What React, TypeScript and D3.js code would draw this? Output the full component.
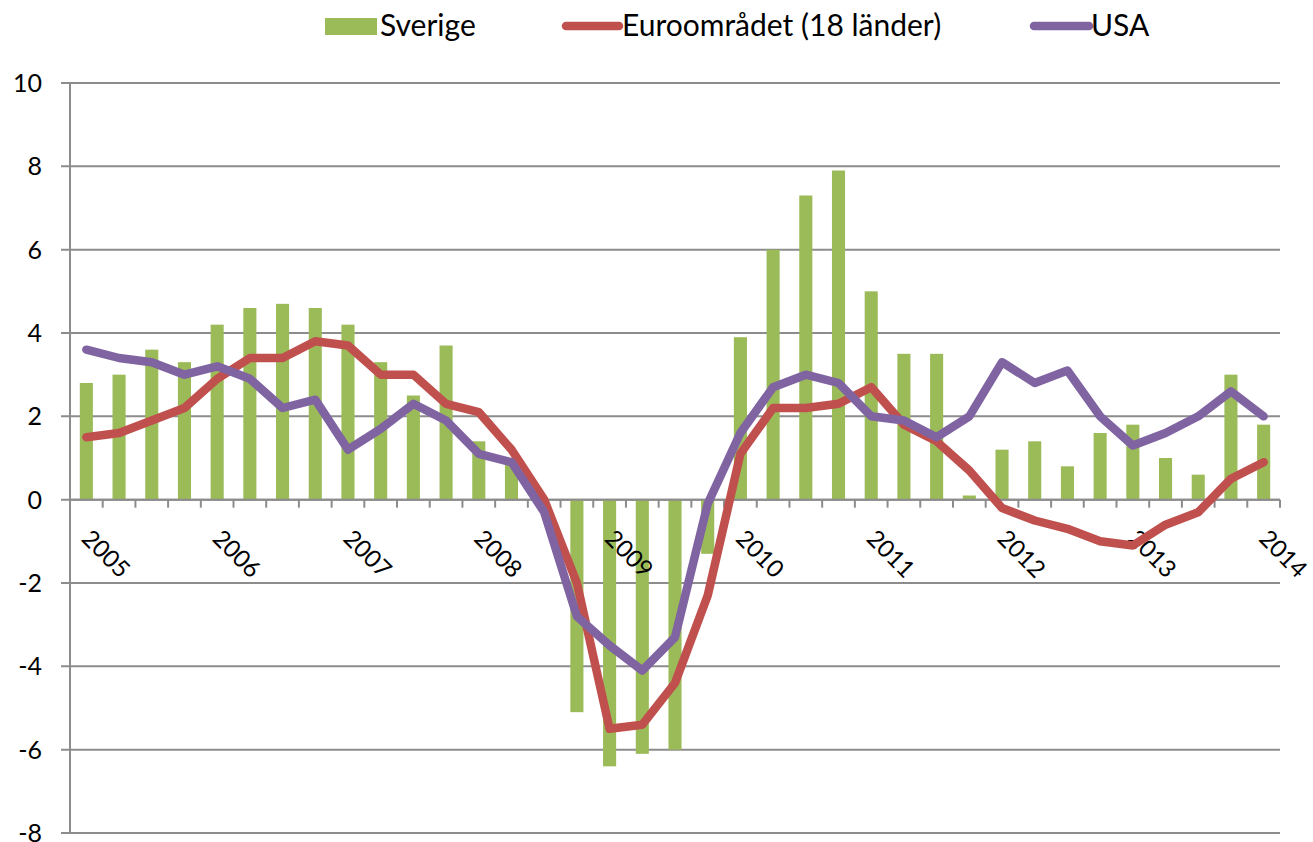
import React, { useEffect, useRef } from "react";
import * as d3 from "d3";

// quarterly data 2005 K1 - 2014 K1, annual change in percent
const quarters = d3.range(2005, 2015).flatMap((y) =>
  y === 2014 ? [`${y}K1`] : [1, 2, 3, 4].map((q) => `${y}K${q}`)
);

const sverige = [
  2.8, 3.0, 3.6, 3.3, 4.2, 4.6, 4.7, 4.6, 4.2, 3.3, 2.5, 3.7, 1.4, 0.9, 0.0, -5.1,
  -6.4, -6.1, -6.0, -1.3, 3.9, 6.0, 7.3, 7.9, 5.0, 3.5, 3.5, 0.1, 1.2, 1.4, 0.8, 1.6,
  1.8, 1.0, 0.6, 3.0, 1.8,
];

const euro = [
  1.5, 1.6, 1.9, 2.2, 2.9, 3.4, 3.4, 3.8, 3.7, 3.0, 3.0, 2.3, 2.1, 1.2, 0.0, -2.0,
  -5.5, -5.4, -4.4, -2.3, 1.1, 2.2, 2.2, 2.3, 2.7, 1.8, 1.4, 0.7, -0.2, -0.5, -0.7, -1.0,
  -1.1, -0.6, -0.3, 0.5, 0.9,
];

const usa = [
  3.6, 3.4, 3.3, 3.0, 3.2, 2.9, 2.2, 2.4, 1.2, 1.7, 2.3, 1.9, 1.1, 0.9, -0.3, -2.8,
  -3.5, -4.1, -3.3, -0.1, 1.6, 2.7, 3.0, 2.8, 2.0, 1.9, 1.5, 2.0, 3.3, 2.8, 3.1, 2.0,
  1.3, 1.6, 2.0, 2.6, 2.0,
];

const yearLabels = ["2005", "2006", "2007", "2008", "2009", "2010", "2011", "2012", "2013", "2014"];
const yTicks = [-8, -6, -4, -2, 0, 2, 4, 6, 8, 10];

const seriesNames = { se: "Sverige", eu: "Euroområdet (18 länder)", us: "USA" };

const GREEN = "#9bbb59";
const RED = "#c0504d";
const PURPLE = "#8064a2";
const GRID = "#8c8c8c";
const FONT = "Lato, 'Open Sans', sans-serif";

const App = () => {
  const svgRef = useRef(null);

  useEffect(() => {
    const width = 1313;
    const height = 842;
    const margin = { top: 83, right: 33, bottom: 8, left: 70 };

    const svg = d3.select(svgRef.current);
    svg.selectAll("*").remove();
    svg.attr("width", width).attr("height", height);

    const x = d3
      .scaleBand()
      .domain(quarters)
      .range([margin.left, width - margin.right])
      .paddingInner(0)
      .paddingOuter(0);
    const bw = x.bandwidth();
    const barW = bw / 2.5;

    const y = d3.scaleLinear().domain([-8, 10]).range([height - margin.bottom - 1, margin.top]);

    // gridlines + y labels
    svg
      .append("g")
      .selectAll("line")
      .data(yTicks)
      .enter()
      .append("line")
      .attr("x1", margin.left - 9)
      .attr("x2", width - margin.right)
      .attr("y1", (d) => y(d))
      .attr("y2", (d) => y(d))
      .attr("stroke", GRID)
      .attr("stroke-width", 2);

    svg
      .append("g")
      .selectAll("text")
      .data(yTicks)
      .enter()
      .append("text")
      .attr("x", 42)
      .attr("y", (d) => y(d))
      .attr("dy", "0.36em")
      .attr("text-anchor", "end")
      .style("font-family", FONT)
      .style("font-size", "25px")
      .style("fill", "#000")
      .text((d) => d);

    // bars
    svg
      .append("g")
      .selectAll("rect")
      .data(sverige)
      .enter()
      .append("rect")
      .attr("x", (d, i) => x(quarters[i]) + (bw - barW) / 2)
      .attr("y", (d) => y(Math.max(0, d)))
      .attr("width", barW)
      .attr("height", (d) => Math.abs(y(d) - y(0)))
      .style("fill", GREEN);

    // axes
    svg
      .append("line")
      .attr("x1", margin.left)
      .attr("x2", margin.left)
      .attr("y1", y(10))
      .attr("y2", y(-8))
      .attr("stroke", GRID)
      .attr("stroke-width", 2);

    svg
      .append("line")
      .attr("x1", margin.left)
      .attr("x2", width - margin.right)
      .attr("y1", y(0))
      .attr("y2", y(0))
      .attr("stroke", GRID)
      .attr("stroke-width", 2);

    svg
      .append("g")
      .selectAll("line")
      .data(quarters)
      .enter()
      .append("line")
      .attr("x1", (d) => x(d) + bw)
      .attr("x2", (d) => x(d) + bw)
      .attr("y1", y(0))
      .attr("y2", y(0) + 8)
      .attr("stroke", GRID)
      .attr("stroke-width", 2);

    // year labels, one per K1
    svg
      .append("g")
      .selectAll("text")
      .data(yearLabels)
      .enter()
      .append("text")
      .attr("transform", (d) => {
        const cx = x(`${d}K1`) + bw / 2 - 6;
        return `translate(${cx}, 540) rotate(45)`;
      })
      .style("font-family", FONT)
      .style("font-size", "24px")
      .style("fill", "#000")
      .text((d) => d);

    // lines
    const line = d3
      .line()
      .x((d, i) => x(quarters[i]) + bw / 2)
      .y((d) => y(d));

    [
      { data: euro, color: RED },
      { data: usa, color: PURPLE },
    ].forEach((s) => {
      svg
        .append("path")
        .datum(s.data)
        .attr("d", line)
        .attr("fill", "none")
        .attr("stroke", s.color)
        .attr("stroke-width", 8.5)
        .attr("stroke-linejoin", "round")
        .attr("stroke-linecap", "round");
    });

    // legend
    const legend = svg.append("g");
    legend.append("rect").attr("x", 325).attr("y", 18).attr("width", 52).attr("height", 17).style("fill", GREEN);
    legend
      .append("text")
      .attr("x", 380)
      .attr("y", 36)
      .style("font-family", FONT)
      .style("font-size", "30px")
      .text(seriesNames.se);

    legend
      .append("line")
      .attr("x1", 566)
      .attr("x2", 619)
      .attr("y1", 26)
      .attr("y2", 26)
      .attr("stroke", RED)
      .attr("stroke-width", 8.5)
      .attr("stroke-linecap", "round");
    legend
      .append("text")
      .attr("x", 622)
      .attr("y", 36)
      .style("font-family", FONT)
      .style("font-size", "30px")
      .text(seriesNames.eu);

    legend
      .append("line")
      .attr("x1", 1034)
      .attr("x2", 1089)
      .attr("y1", 26)
      .attr("y2", 26)
      .attr("stroke", PURPLE)
      .attr("stroke-width", 8.5)
      .attr("stroke-linecap", "round");
    legend
      .append("text")
      .attr("x", 1091)
      .attr("y", 36)
      .style("font-family", FONT)
      .style("font-size", "30px")
      .text(seriesNames.us);
  }, []);

  return (
    <svg
      ref={svgRef}
      style={{ position: "absolute", left: 0, top: 0, background: "#fff" }}
    ></svg>
  );
};

export default App;
